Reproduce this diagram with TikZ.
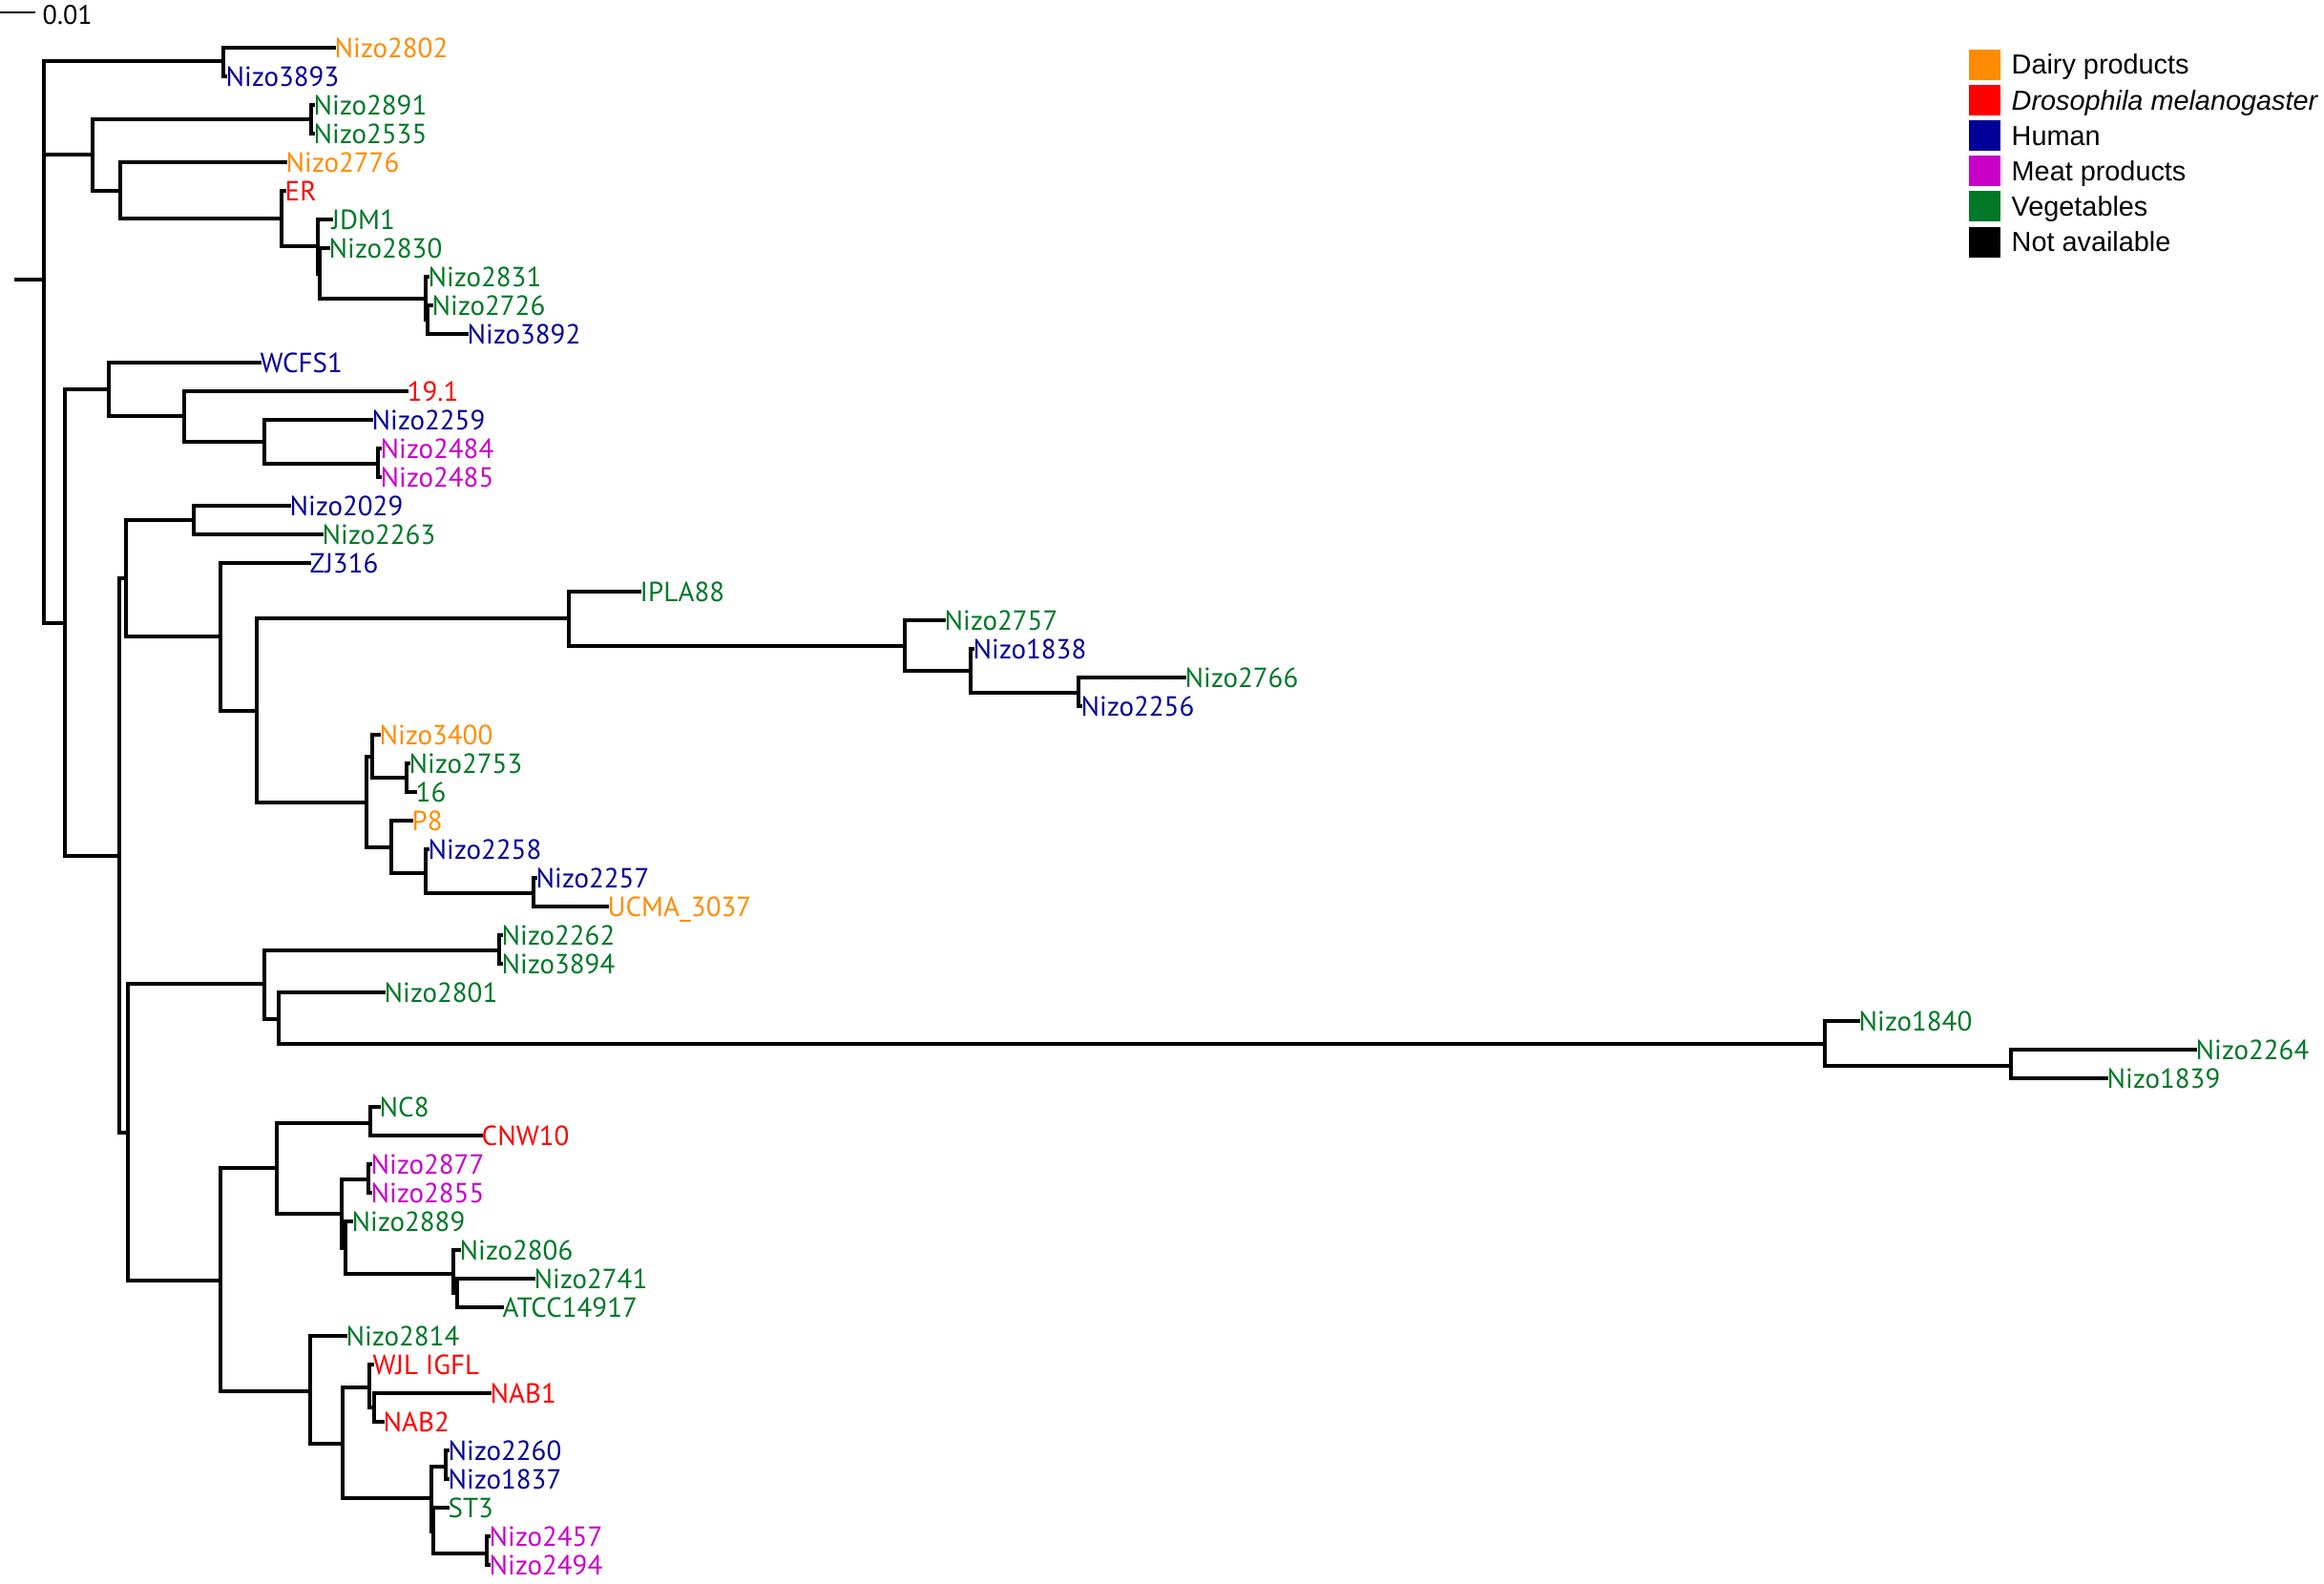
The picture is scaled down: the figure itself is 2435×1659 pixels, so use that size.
\documentclass[tikz,border=0pt]{standalone}
\usepackage{fontspec}
\newfontfamily\labfont{PT Sans}
\newfontfamily\legfont{Liberation Sans}
\definecolor{cdairy}{RGB}{255,140,0}
\definecolor{cdros}{RGB}{255,0,0}
\definecolor{chuman}{RGB}{0,0,153}
\definecolor{cmeat}{RGB}{200,0,200}
\definecolor{cveg}{RGB}{0,120,40}
\definecolor{cna}{RGB}{0,0,0}
\tikzset{
  br/.style={line width=1.2pt, line cap=rect, line join=miter},
  lab/.style={anchor=west, inner xsep=0pt, inner ysep=0pt, font=\labfont\fontsize{8.25}{10}\selectfont, text height=5.8pt, text depth=0pt},
  legsq/.style={draw=none, minimum width=0.33cm, minimum height=0.32cm, inner sep=0pt},
  legtx/.style={anchor=west, inner sep=0pt, font=\legfont\fontsize{8.2}{10}\selectfont, text height=5.9pt, text depth=0pt}
}
\newcommand\tnode[4]{\coordinate (#1) at (#3,#4); \draw[br] (#2) |- (#1);}
\newcommand\tleaf[6]{\coordinate (t-#1) at (#3,#4); \draw[br] (#2) |- (t-#1); \node[lab,text=#5] (l-#1) at (t-#1) {#6};}
\begin{document}
\begin{tikzpicture}[x=0.01cm,y=-0.01cm]
\fill[white] (0,0) rectangle (2435,1659);
\useasboundingbox (0,0) rectangle (2435,1659);
% scale bar
\coordinate (sb1) at (0,12.7);
\coordinate (sb2) at (37,12.7);
\draw[line width=0.5pt] (sb1) -- (sb2);
\node[anchor=west, inner sep=0pt, font=\labfont\fontsize{8}{9}\selectfont] (sbt) at (44,16) {0.01};
% root
\coordinate (stub) at (17,293);
\coordinate (root) at (46,293);
\draw[br] (stub) -- (root);
% clade A
\tnode{A}{root}{234}{64}
\tleaf{n2802}{A}{350}{50}{cdairy}{Nizo2802}
\tleaf{n3893}{A}{236}{80}{chuman}{Nizo3893}
% clade B
\tnode{B}{root}{97}{162}
\tnode{B1}{B}{326}{125}
\tleaf{n2891}{B1}{328}{110}{cveg}{Nizo2891}
\tleaf{n2535}{B1}{328}{140}{cveg}{Nizo2535}
\tnode{B2}{B}{126}{200}
\tleaf{n2776}{B2}{299}{170}{cdairy}{Nizo2776}
\tnode{B2b}{B2}{295}{229}
\tleaf{er}{B2b}{298}{200}{cdros}{ER}
\tnode{P}{B2b}{333}{258}
\tleaf{jdm}{P}{347}{230}{cveg}{JDM1}
\tnode{Q}{P}{335}{287}
\tleaf{n2830}{Q}{344}{260}{cveg}{Nizo2830}
\tnode{R}{Q}{446}{313}
\tleaf{n2831}{R}{448}{290}{cveg}{Nizo2831}
\tnode{S}{R}{448}{335}
\tleaf{n2726}{S}{452}{320}{cveg}{Nizo2726}
\tleaf{n3892}{S}{489}{350}{chuman}{Nizo3892}
% clade D
\tnode{D}{root}{68}{653}
\tnode{C}{D}{114}{408}
\tleaf{wcfs}{C}{272}{380}{chuman}{WCFS1}
\tnode{C2}{C}{193}{436}
\tleaf{n191}{C2}{426}{410}{cdros}{19.1}
\tnode{C3}{C2}{277}{463}
\tleaf{n2259}{C3}{389}{440}{chuman}{Nizo2259}
\tnode{C4}{C3}{396}{486}
\tleaf{n2484}{C4}{398}{470}{cmeat}{Nizo2484}
\tleaf{n2485}{C4}{398}{500}{cmeat}{Nizo2485}
\tnode{E}{D}{125}{897}
\tnode{F}{E}{132}{606}
\tnode{F1}{F}{203}{545}
\tleaf{n2029}{F1}{303}{530}{chuman}{Nizo2029}
\tleaf{n2263}{F1}{337}{560}{cveg}{Nizo2263}
\tnode{F2}{F}{231}{667}
\tleaf{zj}{F2}{324}{590}{chuman}{ZJ316}
\tnode{F3}{F2}{269}{745}
\tnode{F4}{F3}{596}{648}
\tleaf{ipla}{F4}{670}{620}{cveg}{IPLA88}
\tnode{F5}{F4}{948}{677}
\tleaf{n2757}{F5}{989}{650}{cveg}{Nizo2757}
\tnode{F6}{F5}{1017}{703}
\tleaf{n1838}{F6}{1019}{680}{chuman}{Nizo1838}
\tnode{F7}{F6}{1130}{726}
\tleaf{n2766}{F7}{1241}{710}{cveg}{Nizo2766}
\tleaf{n2256}{F7}{1132}{740}{chuman}{Nizo2256}
\tnode{F8}{F3}{384}{841}
\tnode{H}{F8}{390}{793}
\tleaf{n3400}{H}{397}{770}{cdairy}{Nizo3400}
\tnode{I}{H}{426}{815}
\tleaf{n2753}{I}{428}{800}{cveg}{Nizo2753}
\tleaf{n16}{I}{435}{830}{cveg}{16}
\tnode{J}{F8}{410}{888}
\tleaf{p8}{J}{431}{860}{cdairy}{P8}
\tnode{K}{J}{446}{915}
\tleaf{n2258}{K}{448}{890}{chuman}{Nizo2258}
\tnode{L}{K}{559}{936}
\tleaf{n2257}{L}{561}{920}{chuman}{Nizo2257}
\tleaf{ucma}{L}{636}{950}{cdairy}{UCMA\_3037}
\tnode{G}{E}{134}{1187}
\tnode{G1}{G}{277}{1031}
\tnode{G2}{G1}{523}{996}
\tleaf{n2262}{G2}{525}{980}{cveg}{Nizo2262}
\tleaf{n3894}{G2}{525}{1010}{cveg}{Nizo3894}
\tnode{G3}{G1}{292}{1068}
\tleaf{n2801}{G3}{402}{1040}{cveg}{Nizo2801}
\tnode{G4}{G3}{1912}{1094}
\tleaf{n1840}{G4}{1947}{1070}{cveg}{Nizo1840}
\tnode{G5}{G4}{2107}{1117}
\tleaf{n2264}{G5}{2300}{1100}{cveg}{Nizo2264}
\tleaf{n1839}{G5}{2207}{1130}{cveg}{Nizo1839}
\tnode{G6}{G}{231}{1342}
\tnode{G7}{G6}{290}{1224}
\tnode{G8}{G7}{388}{1177}
\tleaf{nc8}{G8}{397}{1160}{cveg}{NC8}
\tleaf{cnw}{G8}{504}{1190}{cdros}{CNW10}
\tnode{M}{G7}{358}{1272}
\tnode{N}{M}{386}{1236}
\tleaf{n2877}{N}{388}{1220}{cmeat}{Nizo2877}
\tleaf{n2855}{N}{388}{1250}{cmeat}{Nizo2855}
\tnode{O}{M}{362}{1308}
\tleaf{n2889}{O}{368}{1280}{cveg}{Nizo2889}
\tnode{Pn}{O}{475}{1335}
\tleaf{n2806}{Pn}{481}{1310}{cveg}{Nizo2806}
\tnode{Qn}{Pn}{479}{1355}
\tleaf{n2741}{Qn}{559}{1340}{cveg}{Nizo2741}
\tleaf{atcc}{Qn}{526}{1370}{cveg}{ATCC14917}
\tnode{G10}{G6}{325}{1458}
\tleaf{n2814}{G10}{362}{1400}{cveg}{Nizo2814}
\tnode{R2}{G10}{359}{1513}
\tnode{S2}{R2}{387}{1454}
\tleaf{wjl}{S2}{390}{1430}{cdros}{WJL IGFL}
\tnode{T}{S2}{392}{1475}
\tleaf{nab1}{T}{513}{1460}{cdros}{NAB1}
\tleaf{nab2}{T}{401}{1490}{cdros}{NAB2}
\tnode{U}{R2}{452}{1570}
\tnode{V}{U}{467}{1537}
\tleaf{n2260}{V}{469}{1520}{chuman}{Nizo2260}
\tleaf{n1837}{V}{469}{1550}{chuman}{Nizo1837}
\tnode{W}{U}{454}{1605}
\tleaf{st3}{W}{469}{1580}{cveg}{ST3}
\tnode{X}{W}{510}{1628}
\tleaf{n2457}{X}{512}{1610}{cmeat}{Nizo2457}
\tleaf{n2494}{X}{512}{1640}{cmeat}{Nizo2494}
% legend
\foreach \i/\c/\t in {0/cdairy/Dairy products,1/cdros/\itshape Drosophila melanogaster,2/chuman/Human,3/cmeat/Meat products,4/cveg/Vegetables,5/cna/Not available}{
  \node[legsq, fill=\c] (sq\i) at (2079.5,{67.5+37.2*\i}) {};
  \node[legtx] (lt\i) at (2107,{67.5+37.2*\i}) {\t};
}
\end{tikzpicture}
\end{document}
